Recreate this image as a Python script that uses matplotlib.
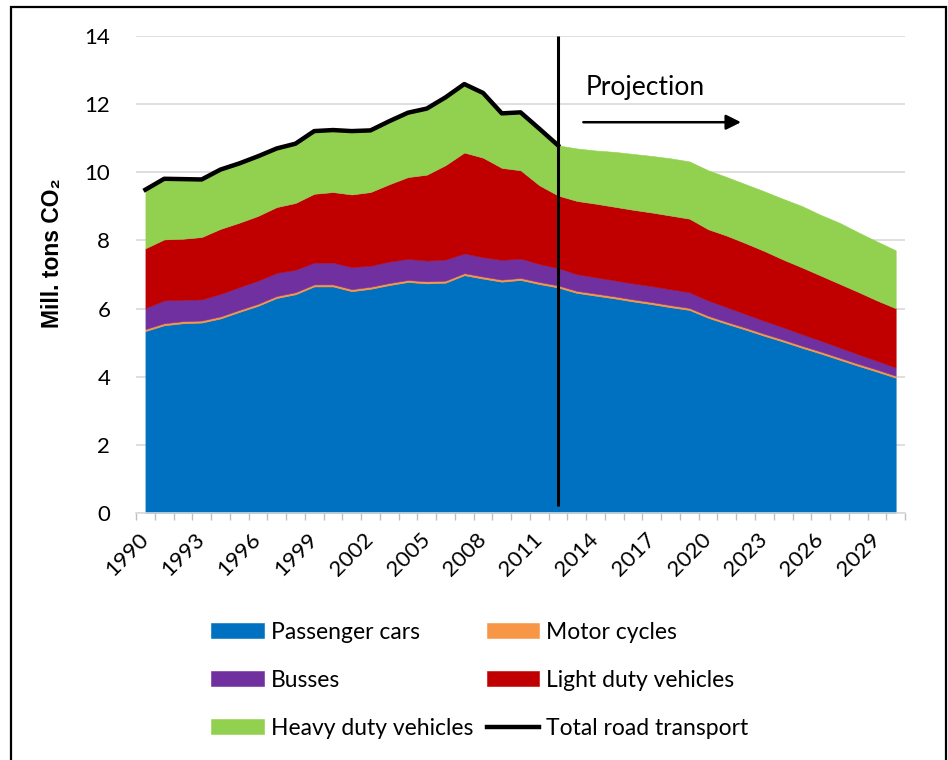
import matplotlib
matplotlib.use("Agg")
import matplotlib.pyplot as plt
from matplotlib.patches import Rectangle
import numpy as np

plt.rcParams['font.family'] = ['Lato', 'DejaVu Sans']

years = list(range(1990, 2031))
hist_years = list(range(1990, 2013))

# Mill. tons CO2 per vehicle group (stack order bottom -> top)
cars = [5.34, 5.51, 5.57, 5.59, 5.71, 5.90, 6.08, 6.31, 6.42, 6.65, 6.65, 6.51,
        6.58, 6.69, 6.78, 6.74, 6.76, 6.98, 6.88, 6.79, 6.84, 6.72, 6.62,
        6.46, 6.38, 6.30, 6.21, 6.13, 6.04, 5.96, 5.73, 5.55, 5.38, 5.20,
        5.03, 4.85, 4.68, 4.50, 4.32, 4.15, 3.97]
moto = [0.06, 0.06, 0.06, 0.06, 0.06, 0.06, 0.06, 0.06, 0.06, 0.06, 0.06, 0.06,
        0.06, 0.06, 0.06, 0.06, 0.06, 0.06, 0.06, 0.06, 0.06, 0.06, 0.06,
        0.06, 0.06, 0.06, 0.06, 0.06, 0.06, 0.06, 0.06, 0.06, 0.06, 0.06,
        0.06, 0.06, 0.06, 0.06, 0.06, 0.06, 0.06]
busses = [0.62, 0.67, 0.63, 0.62, 0.66, 0.67, 0.68, 0.68, 0.66, 0.64, 0.64, 0.65,
          0.62, 0.63, 0.62, 0.61, 0.62, 0.58, 0.57, 0.58, 0.57, 0.53, 0.51,
          0.49, 0.48, 0.47, 0.47, 0.47, 0.47, 0.46, 0.45, 0.43, 0.40, 0.38,
          0.36, 0.34, 0.32, 0.30, 0.28, 0.26, 0.24]
light = [1.75, 1.79, 1.79, 1.83, 1.91, 1.89, 1.90, 1.93, 1.96, 2.02, 2.07, 2.13,
         2.16, 2.27, 2.40, 2.52, 2.77, 2.96, 2.92, 2.70, 2.59, 2.31, 2.13,
         2.15, 2.16, 2.16, 2.16, 2.16, 2.16, 2.16, 2.09, 2.10, 2.08, 2.05,
         1.99, 1.96, 1.91, 1.87, 1.83, 1.77, 1.74]
heavy = [1.72, 1.78, 1.75, 1.69, 1.74, 1.74, 1.75, 1.72, 1.74, 1.84, 1.82, 1.86,
         1.81, 1.85, 1.89, 1.94, 1.99, 2.01, 1.90, 1.60, 1.70, 1.66, 1.47,
         1.54, 1.56, 1.61, 1.64, 1.66, 1.68, 1.68, 1.73, 1.72, 1.73, 1.75,
         1.78, 1.80, 1.78, 1.79, 1.75, 1.73, 1.70]
total = [9.49, 9.81, 9.80, 9.79, 10.08, 10.26, 10.47, 10.70, 10.84, 11.21, 11.24,
         11.21, 11.23, 11.50, 11.75, 11.87, 12.20, 12.59, 12.33, 11.73, 11.76,
         11.28, 10.79]

labels = ['Passenger cars', 'Motor cycles', 'Busses', 'Light duty vehicles',
          'Heavy duty vehicles']
colors = ['#0070C0', '#F79646', '#7030A0', '#C00000', '#92D050']

fig = plt.figure(figsize=(9.48, 7.6), dpi=100)
ax = fig.add_axes([0.1435, 0.325, 0.8112, 0.6276])

polys = ax.stackplot(years, cars, moto, busses, light, heavy,
                     colors=colors, labels=labels, zorder=2)
for p, c in zip(polys, colors):
    p.set_edgecolor(c)
    p.set_linewidth(0.4)

line, = ax.plot(hist_years, total, color='black', lw=3.2, zorder=4,
                label='Total road transport')

# projection marker
ax.vlines(2012, 0.2, 14, color='black', lw=2.2, zorder=5)
ax.text(2013.45, 12.5, 'Projection', fontsize=19, va='center', ha='left')
ax.annotate('', xy=(2021.9, 11.47), xytext=(2013.2, 11.47),
            arrowprops=dict(arrowstyle='-|>,head_length=0.9,head_width=0.45',
                            color='black', lw=1.8))

ax.set_xlim(1989.5, 2030.5)
ax.set_ylim(0, 14)
ax.set_yticks(np.arange(0, 15, 2))
ax.set_xticks(years[::3])
ax.set_xticks(np.arange(1989.5, 2031, 1), minor=True)
ax.tick_params(axis='y', length=0, pad=18.5, labelsize=16)
ax.tick_params(axis='x', which='major', length=0, pad=17, labelsize=16)
ax.tick_params(axis='x', which='minor', length=5, width=1, color='#BFBFBF')
for lab in ax.get_xticklabels():
    lab.set_rotation(45)
    lab.set_ha('right')
    lab.set_va('center')
    lab.set_rotation_mode('anchor')

ax.grid(axis='y', color='#D9D9D9', lw=1.2, zorder=0)
ax.set_axisbelow(True)
for s in ['left', 'right', 'top']:
    ax.spines[s].set_visible(False)
ax.spines['bottom'].set_color('#D9D9D9')
ax.spines['bottom'].set_linewidth(1.2)

ylab = ax.set_ylabel('Mill. tons CO\u2082', fontsize=16.5)
ylab.set_family(['Liberation Sans', 'DejaVu Sans'])
ylab.set_weight('bold')
ax.yaxis.set_label_coords(-0.094, 0.545)

h = polys
handles = [h[0], h[2], h[4], h[1], h[3], line]
fig.legend(handles=handles, labels=[labels[0], labels[2], labels[4],
                                    labels[1], labels[3], 'Total road transport'],
           loc='center', bbox_to_anchor=(0.506, 0.105), ncol=2, frameon=False,
           fontsize=16.5, handlelength=2.3, handleheight=0.65, handletextpad=0.3,
           columnspacing=0.6, labelspacing=1.17)

fig.patches.append(Rectangle((0.0116, -0.01), 0.9864, 1.0008, transform=fig.transFigure,
                             fill=False, edgecolor='black', lw=1.6))

fig.savefig('out.png', dpi=100)
